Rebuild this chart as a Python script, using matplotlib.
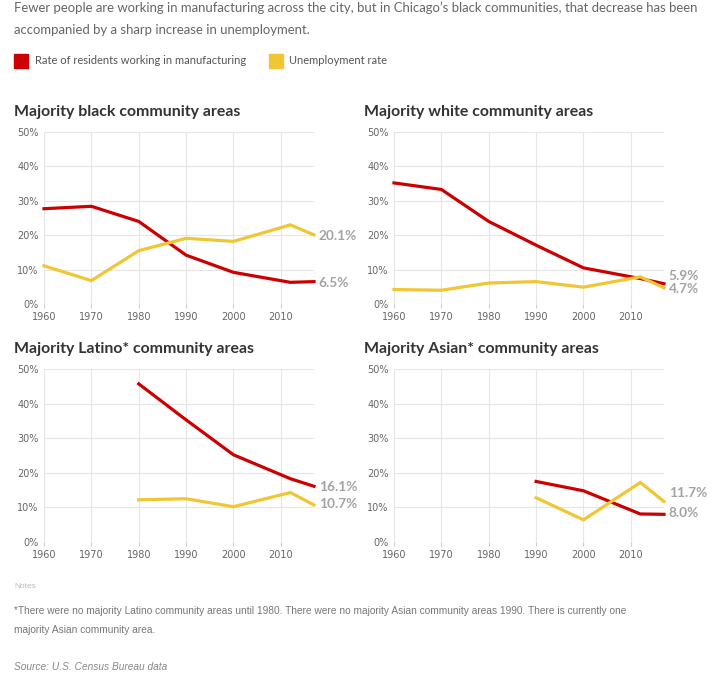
import matplotlib
matplotlib.use('Agg')
import matplotlib.pyplot as plt
import numpy as np

years = [1960, 1970, 1980, 1990, 2000, 2012, 2017]

black_mfg = [27.7, 28.4, 24.0, 14.2, 9.2, 6.3, 6.5]
black_unemp = [11.1, 6.8, 15.5, 19.1, 18.2, 23.0, 20.1]
white_mfg = [35.2, 33.3, 24.0, 17.1, 10.5, 7.4, 5.9]
white_unemp = [4.2, 4.0, 6.1, 6.5, 4.9, 7.9, 4.7]
latino_mfg = [np.nan, np.nan, 45.7, 35.3, 25.2, 18.3, 16.1]
latino_unemp = [np.nan, np.nan, 12.2, 12.5, 10.2, 14.3, 10.7]
asian_mfg = [np.nan, np.nan, np.nan, 17.5, 14.8, 8.1, 8.0]
asian_unemp = [np.nan, np.nan, np.nan, 12.8, 6.4, 17.2, 11.7]

titles = ['Majority black community areas', 'Majority white community areas',
          'Majority Latino* community areas', 'Majority Asian* community areas']
mfg = [black_mfg, white_mfg, latino_mfg, asian_mfg]
unemp = [black_unemp, white_unemp, latino_unemp, asian_unemp]

RED = '#cc0000'
YEL = '#f0c634'
W, H = 726, 690

fig = plt.figure(figsize=(W / 100, H / 100), dpi=100)

def fx(px):
    return px / W

def fy(py):
    return 1 - py / H

# header
fig.text(fx(14), fy(8), "Fewer people are working in manufacturing across the city, but in Chicago\u2019s black communities, that decrease has been",
         fontsize=9.45, color='#666666', family='Lato', va='center')
fig.text(fx(14), fy(30), "accompanied by a sharp increase in unemployment.",
         fontsize=9.45, color='#666666', family='Lato', va='center')

# legend
fig.patches.append(plt.Rectangle((fx(14), fy(68)), fx(14), 14 / H, transform=fig.transFigure, color=RED))
fig.text(fx(35), fy(61), 'Rate of residents working in manufacturing', fontsize=8, color='#555555', family='Lato', va='center')
fig.patches.append(plt.Rectangle((fx(269), fy(68)), fx(14), 14 / H, transform=fig.transFigure, color=YEL))
fig.text(fx(289), fy(61), 'Unemployment rate', fontsize=8, color='#555555', family='Lato', va='center')

panels = [(44, 132, 304), (394, 132, 304), (44, 369, 542), (394, 369, 542)]
title_y = [112, 112, 349, 349]
# label nudges (manufacturing, unemployment) in percentage points
nudges = [(-0.3, -0.4), (2.2, -0.2), (-0.2, 0.3), (0.4, 2.5)]

for i, (lx, ty, by) in enumerate(panels):
    ax = fig.add_axes([fx(lx), fy(by), 270 / W, (by - ty) / H])
    ax.set_xlim(1960, 2017)
    ax.set_ylim(0, 50)
    ax.set_xticks([1960, 1970, 1980, 1990, 2000, 2010])
    ax.set_yticks([0, 10, 20, 30, 40, 50])
    ax.set_yticklabels([f'{v}%' for v in range(0, 51, 10)])
    ax.grid(True, color='#e6e6e6', linewidth=0.8)
    ax.set_axisbelow(True)
    for s in ax.spines.values():
        s.set_visible(False)
    ax.tick_params(axis='both', length=0, labelsize=7, labelcolor='#666666', pad=4)
    ax.tick_params(axis='x', length=3, color='#cccccc', pad=3)
    ax.plot(years, mfg[i], color=RED, linewidth=2.3, solid_joinstyle='miter', clip_on=False)
    ax.plot(years, unemp[i], color=YEL, linewidth=2.3, solid_joinstyle='miter', clip_on=False)
    m_end = mfg[i][-1]
    u_end = unemp[i][-1]
    ax.text(2018.0, m_end + nudges[i][0], f'{m_end:.1f}%', fontsize=9.8, fontweight='bold', color='#a3a3a3',
            va='center', family='Lato', clip_on=False)
    ax.text(2018.0, u_end + nudges[i][1], f'{u_end:.1f}%', fontsize=9.8, fontweight='bold', color='#a3a3a3',
            va='center', family='Lato', clip_on=False)
    fig.text(fx(lx - 30), fy(title_y[i]), titles[i], fontsize=11.4, fontweight='bold', color='#333333', family='Lato', va='center')

# notes
fig.text(fx(14), fy(587), 'Notes', fontsize=6, color='#bbbbbb', family='Liberation Sans', va='center')
fig.text(fx(14), fy(611), '*There were no majority Latino community areas until 1980. There were no majority Asian community areas 1990. There is currently one',
         fontsize=7.3, color='#777777', family='Liberation Sans', va='center')
fig.text(fx(14), fy(630), 'majority Asian community area.', fontsize=7.3, color='#777777', family='Liberation Sans', va='center')
fig.text(fx(14), fy(667), 'Source: U.S. Census Bureau data', fontsize=7.3, color='#888888', family='Liberation Sans', style='italic', va='center')

fig.savefig('out.png', dpi=100, facecolor='white')
